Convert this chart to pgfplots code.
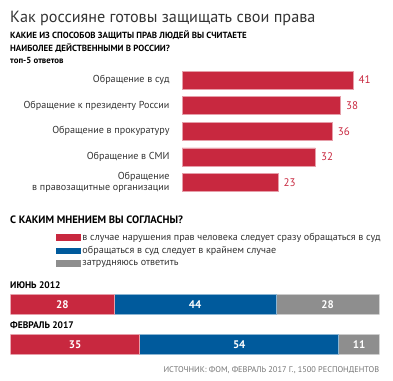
\documentclass[border=0pt]{standalone}
\usepackage{pgfplots}
\pgfplotsset{compat=1.18}
\usepackage{fontspec}
\setmainfont{PT Sans}
\definecolor{cred}{HTML}{C8283F}
\definecolor{cblue}{HTML}{005A9C}
\definecolor{cgray}{HTML}{8E8E8E}
\definecolor{ctext}{HTML}{333333}
\begin{document}
\begin{tikzpicture}[x=1pt,y=1pt]
\path (0,0) rectangle (393,-380);
\node[anchor=base west, inner sep=0, font=\fontsize{16.2}{17}\selectfont, text=ctext] at (10,-22) {Как россияне готовы защищать свои права};
\node[anchor=base west, inner sep=0, font=\bfseries\fontsize{8.9}{10}\selectfont, text=black] at (10,-38.5) {КАКИЕ ИЗ СПОСОБОВ ЗАЩИТЫ ПРАВ ЛЮДЕЙ ВЫ СЧИТАЕТЕ};
\node[anchor=base west, inner sep=0, font=\bfseries\fontsize{8.9}{10}\selectfont, text=black] at (10,-51.7) {НАИБОЛЕЕ ДЕЙСТВЕННЫМИ В РОССИИ?};
\node[anchor=base west, inner sep=0, font=\bfseries\fontsize{8.8}{9}\selectfont, text=black] at (10,-63.5) {топ-5 ответов};
\node[anchor=base west, inner sep=0, font=\bfseries\fontsize{10.7}{11}\selectfont, text=black] at (10,-223.5) {С КАКИМ МНЕНИЕМ ВЫ СОГЛАСНЫ?};
\node[anchor=base west, inner sep=0, font=\bfseries\fontsize{9.5}{10}\selectfont, text=black] at (10,-288.5) {ИЮНЬ 2012};
\node[anchor=base west, inner sep=0, font=\bfseries\fontsize{9.5}{10}\selectfont, text=black] at (10,-328.5) {ФЕВРАЛЬ 2017};
\node[anchor=base east, inner sep=0, font=\fontsize{8.3}{9}\selectfont, text=black!55] at (379.3,-372) {ИСТОЧНИК: ФОМ, ФЕВРАЛЬ 2017 Г., 1500 РЕСПОНДЕНТОВ};

\begin{axis}[at={(182pt,-67.2pt)}, anchor=north west, x=4.17pt, y=25.6pt, y dir=reverse,
  xmin=0, xmax=50, ymin=-0.5, ymax=4.5, xbar, bar width=18pt,
  axis line style={draw=none}, major tick length=0pt, xtick=\empty,
  ytick={0,1,2,3,4},
  /pgf/number format/assume math mode=true,
  yticklabels={Обращение в суд, Обращение к президенту России, Обращение в прокуратуру, Обращение в СМИ, {Обращение\\в правозащитные организации}},
  yticklabel style={align=right, font=\fontsize{10.1}{11.2}\selectfont, text=ctext, xshift=-9pt},
  nodes near coords, nodes near coords style={text=cred, font=\fontsize{11}{12}\selectfont, xshift=2pt}]
\addplot[fill=cred, draw=cred!45!white, line width=0.6pt] coordinates {(41,0) (38,1) (36,2) (32,3) (23,4)};
\end{axis}

\begin{axis}[at={(10.7pt,-284.3pt)}, anchor=north west, x=3.686pt, y=40pt, y dir=reverse,
  xmin=0, xmax=100, ymin=-0.5, ymax=1.5, xbar stacked, bar width=20pt, hide axis,
  legend style={at={(axis description cs:0.122,1.67)}, anchor=north west, draw=none, fill=none, inner sep=0pt,
    font=\fontsize{10.1}{11}\selectfont, text=ctext, row sep=0.8pt, cells={anchor=west, inner xsep=3.5pt}},
  legend cell align=left]
\addplot[fill=cred, draw=cred!45!white, line width=0.6pt, legend image code/.code={\fill[cred] (0pt,-2.8pt) rectangle (24pt,2.8pt);}] coordinates {(28,0) (35,1)};
\addplot[fill=cblue, draw=cblue!45!white, line width=0.6pt, legend image code/.code={\fill[cblue] (0pt,-2.8pt) rectangle (24pt,2.8pt);}] coordinates {(44,0) (54,1)};
\addplot[fill=cgray, draw=cgray!45!white, line width=0.6pt, legend image code/.code={\fill[cgray] (0pt,-2.8pt) rectangle (24pt,2.8pt);}] coordinates {(28,0) (11,1)};
\legend{в случае нарушения прав человека следует сразу обращаться в суд, обращаться в суд следует в крайнем случае, затрудняюсь ответить}
\end{axis}

\begin{axis}[at={(10.7pt,-284.3pt)}, anchor=north west, x=3.686pt, y=40pt, y dir=reverse,
  xmin=0, xmax=100, ymin=-0.5, ymax=1.5, hide axis,
  /pgf/number format/assume math mode=true]
\addplot[draw=none, mark=none, nodes near coords={\textbf{\pgfplotspointmeta}}, point meta=explicit symbolic,
  every node near coord/.append style={anchor=center, text=white, font=\bfseries\fontsize{11}{12}\selectfont}]
  coordinates {(14,0) [28] (50,0) [44] (86,0) [28] (17.5,1) [35] (62,1) [54] (94.5,1) [11]};
\end{axis}
\end{tikzpicture}
\end{document}
